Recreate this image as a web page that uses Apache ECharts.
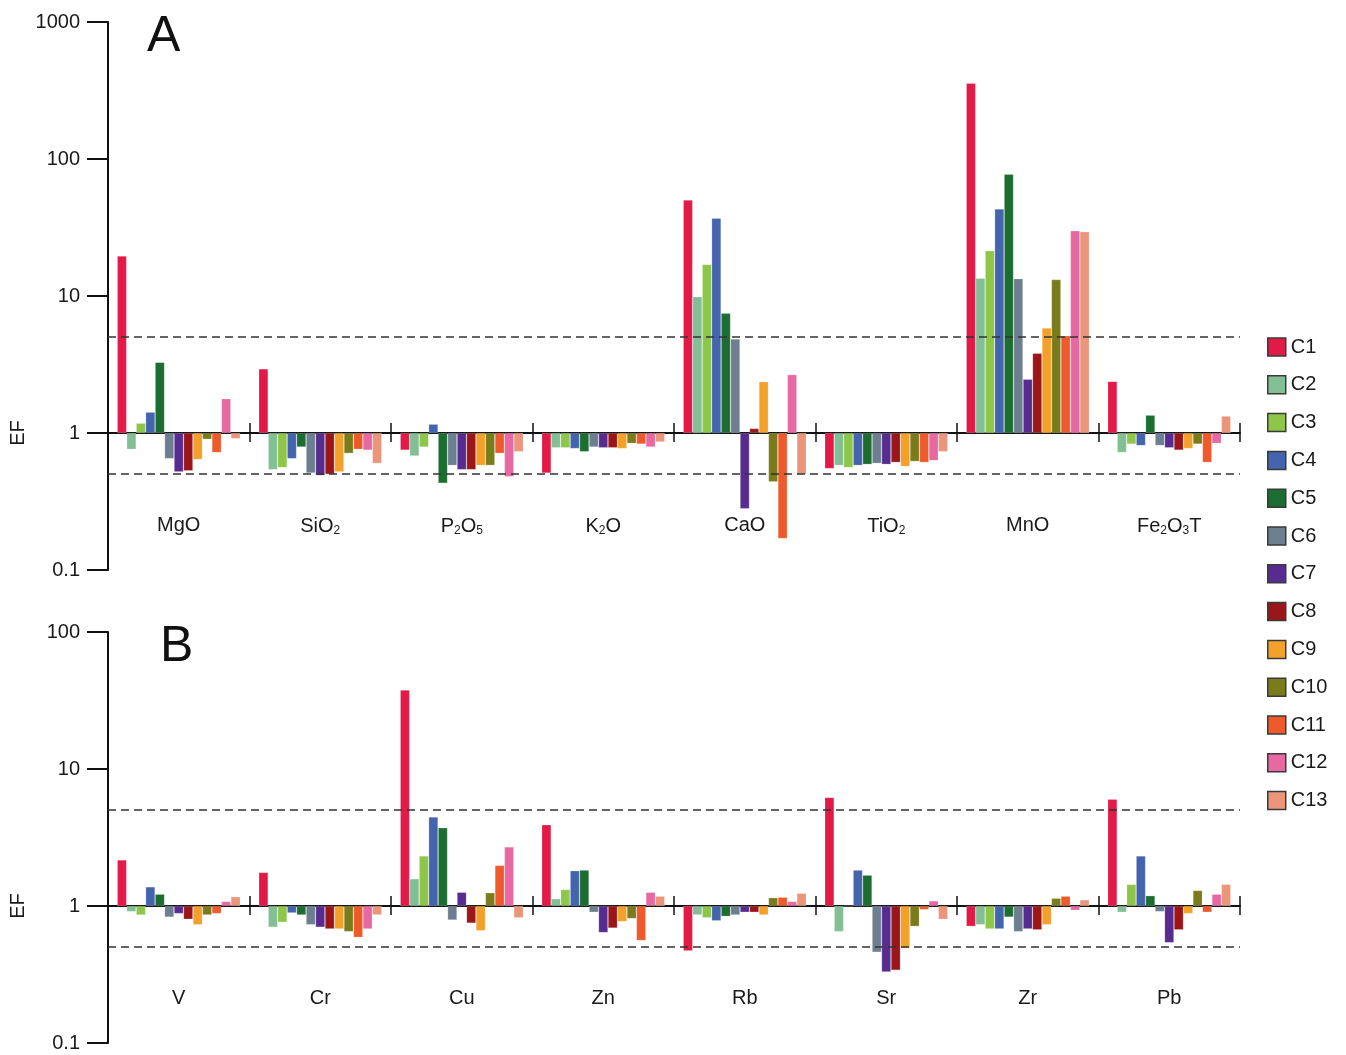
<!DOCTYPE html>
<html>
<head>
<meta charset="utf-8">
<script src="https://cdn.jsdelivr.net/npm/echarts@6/dist/echarts.min.js"></script>
<style>
  html, body { margin: 0; padding: 0; background: #fff; }
  #chart { width: 1346px; height: 1055px; }
</style>
</head>
<body>
<div id="chart"></div>
<script>
// Enrichment factors (EF) for clusters C1–C13
const clusters = ['C1','C2','C3','C4','C5','C6','C7','C8','C9','C10','C11','C12','C13'];
const clusterColors = ['#E21A48','#82BF95','#8DC649','#4564AE','#1B6D30','#6C7E8F',
                       '#582C8E','#9A1618','#F3A12A','#7A7B1B','#EE5A2B','#E768A3','#EB957B'];

// Major oxides (panel A)
const majorNames = ['MgO','SiO2','P2O5','K2O','CaO','TiO2','MnO','Fe2O3T'];
const efMgO    = [19.6, 0.76, 1.18, 1.42, 3.28, 0.65, 0.52, 0.53, 0.64, 0.90, 0.72, 1.78, 0.91];
const efSiO2   = [2.94, 0.54, 0.56, 0.65, 0.79, 0.51, 0.49, 0.50, 0.52, 0.71, 0.76, 0.75, 0.60];
const efP2O5   = [0.75, 0.68, 0.79, 1.16, 0.43, 0.58, 0.54, 0.54, 0.58, 0.58, 0.71, 0.48, 0.73];
const efK2O    = [0.51, 0.78, 0.78, 0.77, 0.73, 0.79, 0.78, 0.78, 0.77, 0.84, 0.83, 0.79, 0.86];
const efCaO    = [50.2, 9.9, 17.0, 36.9, 7.5, 4.86, 0.28, 1.08, 2.37, 0.44, 0.17, 2.67, 0.50];
const efTiO2   = [0.55, 0.58, 0.56, 0.58, 0.59, 0.60, 0.59, 0.61, 0.57, 0.62, 0.61, 0.63, 0.73];
const efMnO    = [357, 13.5, 21.4, 43.2, 77.3, 13.4, 2.47, 3.82, 5.84, 13.2, 5.13, 30.0, 29.5];
const efFe2O3T = [2.38, 0.72, 0.83, 0.81, 1.35, 0.81, 0.78, 0.75, 0.77, 0.83, 0.61, 0.84, 1.33];
const majorRows = [efMgO, efSiO2, efP2O5, efK2O, efCaO, efTiO2, efMnO, efFe2O3T];

// Trace elements (panel B)
const traceNames = ['V','Cr','Cu','Zn','Rb','Sr','Zr','Pb'];
const efV  = [2.17, 0.91, 0.86, 1.38, 1.22, 0.83, 0.88, 0.80, 0.73, 0.86, 0.88, 1.08, 1.17];
const efCr = [1.76, 0.70, 0.76, 0.89, 0.86, 0.73, 0.70, 0.68, 0.68, 0.65, 0.59, 0.68, 0.86];
const efCu = [37.7, 1.58, 2.32, 4.46, 3.73, 0.79, 1.26, 0.75, 0.66, 1.25, 1.98, 2.70, 0.82];
const efZn = [3.92, 1.13, 1.32, 1.81, 1.83, 0.90, 0.64, 0.69, 0.77, 0.81, 0.56, 1.26, 1.18];
const efRb = [0.47, 0.86, 0.82, 0.78, 0.84, 0.86, 0.90, 0.90, 0.86, 1.15, 1.16, 1.08, 1.24];
const efSr = [6.21, 0.65, 1.00, 1.83, 1.68, 0.46, 0.33, 0.34, 0.49, 0.71, 0.94, 1.09, 0.80];
const efZr = [0.71, 0.73, 0.68, 0.68, 0.83, 0.65, 0.68, 0.67, 0.73, 1.14, 1.18, 0.93, 1.11];
const efPb = [6.01, 0.90, 1.44, 2.32, 1.19, 0.91, 0.54, 0.67, 0.88, 1.30, 0.90, 1.22, 1.44];
const traceRows = [efV, efCr, efCu, efZn, efRb, efSr, efZr, efPb];

// Thresholds drawn as dashed guides
const thresholds = [5, 0.5];
// Decade range (log10 exponents) for each panel
const decadesA = [-1, 3];
const decadesB = [-1, 2];

const FONT = '"Liberation Sans", Arial, Helvetica, sans-serif';
const TXT = '#1a1a1a';

const gridA = { left: 108, top: 22, width: 1132, height: 548 };
const gridB = { left: 108, top: 632, width: 1132, height: 411 };

// Bars are drawn on log10(EF) so they grow up/down from EF = 1
const lg = v => Math.log10(v);
const tickText = v => {
  const p = Math.round(v);
  return p < 0 ? Math.pow(10, p).toFixed(-p) : String(Math.pow(10, p));
};
// Chemical formulas: digits become subscripts
const formula = s => s.replace(/(\d)/g, '{s|$1}');

// Shift that lifts a bottom axis from the grid edge up to the EF = 1 line
const zeroShift = (grid, range) => -grid.height * (0 - range[0]) / (range[1] - range[0]);

// Each panel uses two category axes on the EF = 1 line:
// one carries line, labels and downward ticks, the other the upward ticks.
function xAxes(gridIndex, names, shift) {
  return [
    {
      type: 'category', gridIndex, data: names, position: 'bottom', offset: shift,
      axisLine: { onZero: false, lineStyle: { color: '#111', width: 2 } },
      axisTick: { show: true, inside: false, length: 9, lineStyle: { color: '#111', width: 1.5 } },
      axisLabel: {
        interval: 0, margin: 82, color: TXT, fontFamily: FONT, fontSize: 20,
        formatter: formula,
        rich: { s: { fontSize: 12, fontFamily: FONT, color: TXT, padding: [10, 0, 0, 0] } }
      },
      splitLine: { show: false }
    },
    {
      type: 'category', gridIndex, data: names, position: 'bottom', offset: shift,
      axisLine: { show: false, onZero: false },
      axisTick: { show: true, inside: true, length: 10, lineStyle: { color: '#111', width: 1.5 } },
      axisLabel: { show: false },
      splitLine: { show: false }
    }
  ];
}

function yAxis(gridIndex, range) {
  return {
    type: 'value', gridIndex, min: range[0], max: range[1], interval: 1,
    axisLine: { show: true, onZero: false, lineStyle: { color: '#111', width: 2 } },
    axisTick: { show: true, inside: false, length: 21, lineStyle: { color: '#111', width: 2 } },
    axisLabel: { margin: 28, color: TXT, fontFamily: FONT, fontSize: 20, formatter: tickText },
    splitLine: { show: false }
  };
}

function panelSeries(rows, xIdx, yIdx) {
  return clusters.map((name, k) => ({
    name, type: 'bar', xAxisIndex: xIdx, yAxisIndex: yIdx,
    barGap: '0%', barCategoryGap: '13%',
    itemStyle: { color: clusterColors[k], borderColor: 'rgba(255,255,255,0.35)', borderWidth: 0.6 },
    data: rows.map(r => lg(r[k])),
    markLine: k === 0 ? {
      silent: true, symbol: 'none',
      label: { show: false },
      lineStyle: { color: '#333', width: 1.6, type: [8, 5] },
      data: thresholds.map(t => ({ yAxis: lg(t) }))
    } : undefined,
    z: 2
  }));
}

const chart = echarts.init(document.getElementById('chart'), null, { renderer: 'canvas' });

chart.setOption({
  backgroundColor: '#fff',
  animation: false,
  textStyle: { fontFamily: FONT },
  grid: [
    Object.assign({ containLabel: false, outerBoundsMode: 'none' }, gridA),
    Object.assign({ containLabel: false, outerBoundsMode: 'none' }, gridB)
  ],
  xAxis: [
    ...xAxes(0, majorNames, zeroShift(gridA, decadesA)),
    ...xAxes(1, traceNames, zeroShift(gridB, decadesB))
  ],
  yAxis: [yAxis(0, decadesA), yAxis(1, decadesB)],
  legend: {
    data: clusters, orient: 'vertical', left: 1267, top: 337, padding: 0,
    icon: 'rect', itemWidth: 18, itemHeight: 18, itemGap: 17.8,
    itemStyle: { borderColor: '#3a3a3a', borderWidth: 1.5 },
    textStyle: { color: TXT, fontFamily: FONT, fontSize: 20 }
  },
  graphic: [
    { type: 'text', left: 147, top: 12, style: { text: 'A', fontSize: 50, fontFamily: FONT, fill: '#111' } },
    { type: 'text', left: 160, top: 622, style: { text: 'B', fontSize: 50, fontFamily: FONT, fill: '#111' } },
    { type: 'text', x: 18, y: 433, rotation: Math.PI / 2,
      style: { text: 'EF', x: 0, y: 0, align: 'center', verticalAlign: 'middle', fontSize: 20, fontFamily: FONT, fill: TXT } },
    { type: 'text', x: 18, y: 906, rotation: Math.PI / 2,
      style: { text: 'EF', x: 0, y: 0, align: 'center', verticalAlign: 'middle', fontSize: 20, fontFamily: FONT, fill: TXT } }
  ],
  series: [...panelSeries(majorRows, 0, 0), ...panelSeries(traceRows, 2, 1)]
});
</script>
</body>
</html>
